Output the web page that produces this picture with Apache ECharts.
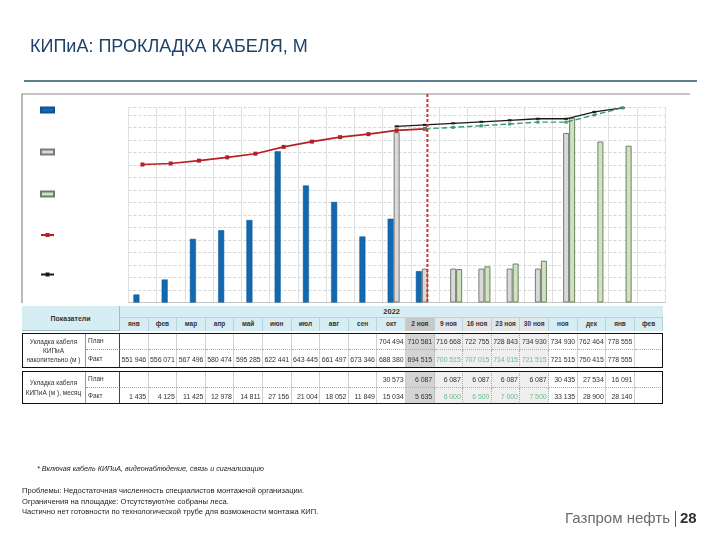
<!DOCTYPE html>
<html>
<head>
<meta charset="utf-8">
<script src="https://cdn.jsdelivr.net/npm/echarts@6/dist/echarts.min.js"></script>
<style>
body { margin: 0; background: #fff; }
#wrap { position: relative; width: 720px; height: 540px; overflow: hidden; font-family: "Liberation Sans", Arial, sans-serif; }
#chart { position: absolute; left: 0; top: 0; width: 720px; height: 540px; }
#tbl { position: absolute; left: 0; top: 0; }
.c { position: absolute; box-sizing: border-box; font-size: 7px; line-height: 1; color: #333; white-space: nowrap;
     display: flex; align-items: center; overflow: hidden; }
.n { justify-content: flex-end; padding-right: 1.5px; font-size: 7px; letter-spacing: -0.1px; }
</style>
</head>
<body>
<div id="wrap"><div id="chart"></div><div id="tbl"></div></div>
<script>
const categories = ["янв", "фев", "мар", "апр", "май", "июн", "июл", "авг", "сен", "окт",
  "2 ноя", "9 ноя", "16 ноя", "23 ноя", "30 ноя", "ноя", "дек", "янв", "фев"];
const yearLabel = "2022";

// monthly / weekly laying, m
const factMonthly = [1435, 4125, 11425, 12978, 14811, 27156, 21004, 18052, 11849, 15034, 5635,
  null, null, null, null, null, null, null, null];
const planMonthly = [null, null, null, null, null, null, null, null, null, 30573, 6087,
  6087, 6087, 6087, 6087, 30435, 27534, 16091, null];
const forecastMonthly = [null, null, null, null, null, null, null, null, null, null, null,
  6000, 6500, 7000, 7500, 33135, 28900, 28140, null];

// cumulative, m
const factCum = [551946, 556071, 567496, 580474, 595285, 622441, 643445, 661497, 673346, 688380, 694515,
  null, null, null, null, null, null, null, null];
const planCum = [null, null, null, null, null, null, null, null, null, 704494, 710581,
  716668, 722755, 728843, 734930, 734930, 762464, 778555, null];
const forecastCum = [null, null, null, null, null, null, null, null, null, null, 694515,
  700515, 707015, 714015, 721515, 721515, 750415, 778555, null];

// plan bars are drawn only up to november
const planBarLast = 15;

const notes = [
  "Проблемы: Недостаточная численность специалистов монтажной организации.",
  "Ограничения на площадке: Отсутствуют/не собраны леса.",
  "Частично нет готовности по технологической трубе для возможности монтажа КИП."
];

const fmt = (v) => v == null ? "" : String(v).replace(/\B(?=(\d{3})+(?!\d))/g, " ");

// ---------- table ----------
const tbl = document.getElementById("tbl");
const col0 = 120, colW = 543.4 / 19;
function cell(x, y, w, h, text, css, cls) {
  const d = document.createElement("div");
  d.className = "c" + (cls ? " " + cls : "");
  d.style.cssText = `left:${x}px;top:${y}px;width:${w}px;height:${h}px;` + (css || "");
  d.textContent = text;
  tbl.appendChild(d);
}
function colBg(i, header) {
  if (i === 10) return header ? "#c8c8c8" : "#d4d4d4";
  if (i >= 11 && i <= 14) return header ? "#e3e7e9" : "#efefef";
  return header ? "#d7edf4" : "#fff";
}
cell(22, 306, 641, 25, "", "background:#d7edf4;border-bottom:1px solid #9dbdc8");
cell(22, 306, 98, 25, "Показатели", "justify-content:center;font-weight:bold;border-right:1px solid #9dbdc8");
cell(col0, 306, 543.4, 12, yearLabel, "justify-content:center;font-weight:bold;font-size:7.5px;border-bottom:1px solid #b7d4de");
categories.forEach((m, i) => {
  cell(col0 + i * colW, 318, colW, 13, m,
    `background:${colBg(i, true)};justify-content:center;font-weight:bold;font-size:6.5px;color:#333;border-right:1px solid #b7d4de`);
});

function block(y, h1, h2, label, top, bottom) {
  cell(22, y, 64, h1 + h2, label,
    "white-space:pre;text-align:center;justify-content:center;font-size:6.5px;line-height:1.4;border-right:1px solid #999");
  cell(86, y, 34, h1, "План", "padding-left:2px;font-size:6.5px;border-bottom:1px dotted #999;border-right:1px solid #444");
  cell(86, y + h1, 34, h2, "Факт", "padding-left:2px;font-size:6.5px;border-right:1px solid #444");
  for (let i = 0; i < categories.length; i++) {
    const x = col0 + i * colW;
    const sep = i >= 10 && i <= 14 ? "border-right:1px dotted #aaa;" : "border-right:1px solid #d0d0d0;";
    cell(x, y, colW, h1, fmt(top[i].v), `background:${colBg(i)};${sep}border-bottom:1px dotted #aaa;color:${top[i].c}`, "n");
    cell(x, y + h1, colW, h2, fmt(bottom[i].v), `background:${colBg(i)};${sep}color:${bottom[i].c}`, "n");
  }
  cell(22, y, 641, h1 + h2, "", "border:1.5px solid #111");
}
const dark = "#333", green = "#6cbf8c";
const rowPlanCum = planCum.map((v) => ({ v, c: dark }));
const rowFactCum = factCum.map((v, i) => v != null ? { v, c: dark } : { v: forecastCum[i], c: i <= 14 ? green : dark });
const rowPlanM = planMonthly.map((v) => ({ v, c: dark }));
const rowFactM = factMonthly.map((v, i) => v != null ? { v, c: dark } : { v: forecastMonthly[i], c: i <= 14 ? green : dark });
block(333, 17, 18, "Укладка кабеля\nКИПиА\nнакопительно (м )", rowPlanCum, rowFactCum);
block(371, 17, 16, "Укладка кабеля\nКИПиА (м ), месяц", rowPlanM, rowFactM);

// ---------- chart ----------
const chart = echarts.init(document.getElementById("chart"));
const font = "Liberation Sans";
chart.setOption({
  animation: false,
  textStyle: { fontFamily: font },
  title: {
    text: "КИПиА: ПРОКЛАДКА КАБЕЛЯ, М",
    left: 25, top: 33,
    textStyle: { fontSize: 18, fontWeight: "normal", color: "#1e4268", fontFamily: font }
  },
  legend: {
    orient: "vertical", left: 35, top: 101.5,
    itemWidth: 13, itemHeight: 5, itemGap: 35,
    formatter: () => "",
    textStyle: { fontSize: 1 },
    data: [
      { name: "Факт", icon: "rect" },
      { name: "План", icon: "rect" },
      { name: "Прогноз", icon: "rect" },
      "Факт накопительно",
      "План накопительно"
    ]
  },
  grid: { left: 128.3, right: 55, top: 107.5, height: 195 },
  xAxis: {
    type: "category",
    data: categories,
    axisLabel: { show: false },
    axisTick: { show: false },
    axisLine: { lineStyle: { color: "#c4c4c4" } },
    splitLine: { show: true, interval: 0, lineStyle: { color: "#e0e0e0" } }
  },
  yAxis: [
    { type: "value", min: 0, max: 35000, show: false, splitLine: { show: false } },
    {
      type: "value", min: 0, max: 780000, interval: 50000,
      axisLabel: { show: false }, axisLine: { show: false }, axisTick: { show: false },
      splitLine: { lineStyle: { color: "#d6d6d6", type: [3, 2] } }
    }
  ],
  series: [
    {
      name: "Факт", type: "bar", yAxisIndex: 0, data: factMonthly,
      barWidth: 6, barGap: "0%",
      itemStyle: { color: "#1269b0", borderColor: "#0c548f", borderWidth: 0.5 }
    },
    {
      name: "План", type: "bar", yAxisIndex: 0,
      data: planMonthly.map((v, i) => i <= planBarLast ? v : null),
      barWidth: 6, barGap: "0%",
      itemStyle: { color: "#d9d9d9", borderColor: "#7a7a7a", borderWidth: 1 }
    },
    {
      name: "Прогноз", type: "bar", yAxisIndex: 0, data: forecastMonthly,
      barWidth: 6, barGap: "0%",
      itemStyle: { color: "#cfe3bd", borderColor: "#6d8066", borderWidth: 1 }
    },
    {
      name: "Факт накопительно", type: "line", yAxisIndex: 1, data: factCum,
      symbol: "rect", symbolSize: 4,
      lineStyle: { color: "#b52025", width: 1.6 }, itemStyle: { color: "#b52025" }
    },
    {
      name: "План накопительно", type: "line", yAxisIndex: 1, data: planCum,
      symbol: "rect", symbolSize: [4, 2],
      lineStyle: { color: "#1a1a1a", width: 1.3 }, itemStyle: { color: "#1a1a1a" }
    },
    {
      name: "Прогноз накопительно", type: "line", yAxisIndex: 1, data: forecastCum,
      symbol: "rect", symbolSize: 3,
      lineStyle: { color: "#3c9a72", width: 1.4, type: "dashed" }, itemStyle: { color: "#3c9a72" }
    }
  ],
  graphic: [
    { id: "rule", type: "line", shape: { x1: 24, y1: 81, x2: 697, y2: 81 }, style: { stroke: "#5f7f8f", lineWidth: 2 } },
    { id: "frame", type: "polyline", shape: { points: [[22, 303], [22, 94], [690, 94]] }, style: { stroke: "#8c8c8c", lineWidth: 1.2, fill: null } },
    {
      id: "foot", type: "text", left: 37, top: 465,
      style: { text: "* Включая кабель КИПиА, видеонаблюдение, связь и сигнализацию", fontStyle: "italic", fontSize: 7.2, fontFamily: font, fill: "#222" }
    },
    ...notes.map((t, k) => ({
      id: "note" + k, type: "text", left: 22, top: 487 + k * 10.5,
      style: { text: t, fontSize: 7.6, fontFamily: font, fill: "#222" }
    })),
    { id: "brand", type: "text", right: 50, top: 511, style: { text: "Газпром нефть", fontSize: 15, fontFamily: font, fill: "#6b6b6b" } },
    { id: "bar", type: "line", shape: { x1: 675.5, y1: 511, x2: 675.5, y2: 527 }, style: { stroke: "#555", lineWidth: 1 } },
    { id: "page", type: "text", left: 680, top: 511, style: { text: "28", fontSize: 15, fontWeight: "bold", fontFamily: font, fill: "#333" } }
  ]
});

// dashed "today" marker after the 2 ноя cluster
const cutX = chart.convertToPixel({ xAxisIndex: 0 }, 10) + 2.5;
chart.setOption({
  graphic: [{
    id: "cut", type: "line", z: 100,
    shape: { x1: cutX, y1: 94, x2: cutX, y2: 303 },
    style: { stroke: "#c0392b", lineWidth: 2, lineDash: [3, 2] }
  }]
});
</script>
</body>
</html>
